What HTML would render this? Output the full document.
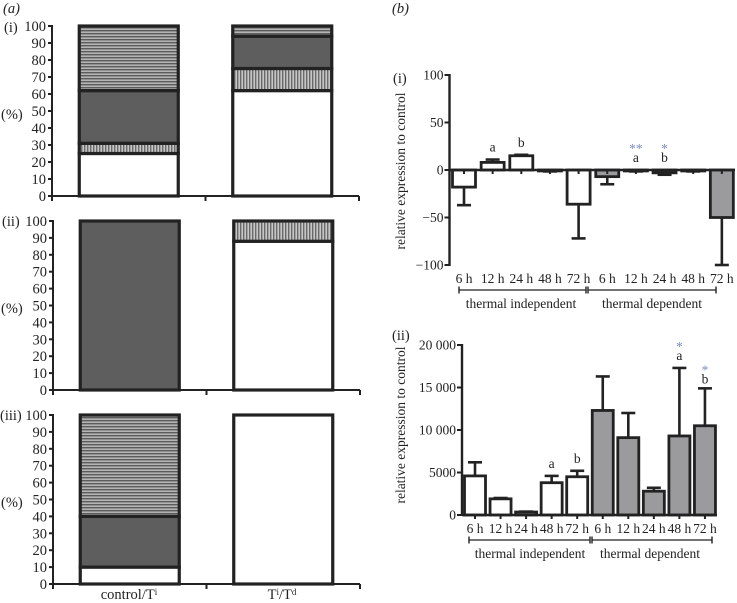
<!DOCTYPE html>
<html>
<head>
<meta charset="utf-8">
<style>
html,body{margin:0;padding:0;background:#fff;width:737px;height:603px;overflow:hidden}
svg{display:block;font-size:13.5px}
text{font-family:"Liberation Serif",serif;fill:#222}
</style>
</head>
<body>
<svg id="fig" xmlns="http://www.w3.org/2000/svg" width="737" height="603" viewBox="0 0 737 603">
<defs>
<pattern id="hatch-h" width="3" height="3" patternUnits="userSpaceOnUse"><rect width="3" height="3" fill="#b4b4b4"/><rect width="3" height="1.4" fill="#5c5c5c"/></pattern>
<pattern id="hatch-v" width="3" height="3" patternUnits="userSpaceOnUse"><rect width="3" height="3" fill="#c6c6c6"/><rect width="1.4" height="3" fill="#6a6a6a"/></pattern>
</defs>
</svg>
<script>
// Panel (a) data: stacked percentages, bottom to top
const aCategories = ['control/Ti', 'Ti/Td'];
const aTicks = [0, 10, 20, 30, 40, 50, 60, 70, 80, 90, 100];
const a1ControlKinds = ['white', 'vertical', 'dark', 'horizontal'];
const a1ControlValues = [25, 6, 31, 38];
const a1TransKinds = ['white', 'vertical', 'dark', 'horizontal'];
const a1TransValues = [62, 13, 19, 6];
const a2ControlKinds = ['dark'];
const a2ControlValues = [100];
const a2TransKinds = ['white', 'vertical'];
const a2TransValues = [88, 12];
const a3ControlKinds = ['white', 'dark', 'horizontal'];
const a3ControlValues = [10, 30, 60];
const a3TransKinds = ['white'];
const a3TransValues = [100];

// Panel (b) data
const timeLabels = ['6 h', '12 h', '24 h', '48 h', '72 h', '6 h', '12 h', '24 h', '48 h', '72 h'];
const b1Ticks = [-100, -50, 0, 50, 100];
const b1TickLabels = ['\u2212100', '\u221250', '0', '50', '100'];
const b1Values = [-18, 8, 15, -1, -36, -7, -1, -3, -1, -50];
const b1Errors = [-37, 11, 16, -1.5, -72, -15, -1.5, -5, -1.5, -100];
const b1Letters = ['', 'a', 'b', '', '', '', 'a', 'b', '', ''];
const b1Stars = ['', '', '', '', '', '', '**', '*', '', ''];
const b2Ticks = [0, 5000, 10000, 15000, 20000];
const b2TickLabels = ['0', '5000', '10 000', '15 000', '20 000'];
const b2Values = [4600, 1900, 350, 3800, 4500, 12300, 9100, 2800, 9300, 10500];
const b2Errors = [6200, 2000, 400, 4600, 5200, 16300, 12000, 3200, 17300, 14900];
const b2Letters = ['', '', '', 'a', 'b', '', '', '', 'a', 'b'];
const b2Stars = ['', '', '', '', '', '', '', '', '*', '*'];

const svg = document.getElementById('fig');
const NS = 'http://www.w3.org/2000/svg';
const INK = '#222222';

function mk(tag, attrs, parent) {
  const el = document.createElementNS(NS, tag);
  for (const k in attrs) el.setAttribute(k, attrs[k]);
  (parent || svg).appendChild(el);
  return el;
}
function line(x1, y1, x2, y2, w, name, parent) {
  const el = mk('line', {x1: x1, y1: y1, x2: x2, y2: y2, stroke: INK, 'stroke-width': w}, parent);
  
  
  return el;
}
function label(x, y, str, anchor, name, parent) {
  const el = mk('text', {x: x, y: y, 'text-anchor': anchor}, parent);
  el.textContent = str;
  
  
  return el;
}
function group(name) {
  const g = mk('g', {});
  
  
  return g;
}
const kindFill = {white: '#ffffff', dark: '#5e5e5e', vertical: 'url(#hatch-v)', horizontal: 'url(#hatch-h)'};

function stackedPanel(name, top, bottom, left, right, stacks) {
  const g = group(name);
  g.style.fontSize = '14.5px';
  const sy = v => bottom + (top - bottom) * v / 100;
  const band = (right - left) / 2;
  const barW = 99;
  stacks.forEach((stack, c) => {
    const cx = left + band * (c + 0.5);
    let acc = 0;
    stack.values.forEach((v, i) => {
      const kind = stack.kinds[i];
      const y1 = sy(acc + v), y0 = sy(acc);
      const r = mk('rect', {x: cx - barW / 2, y: y1, width: barW, height: y0 - y1, fill: kindFill[kind], stroke: INK, 'stroke-width': 3.2}, g);
      
      
      acc += v;
    });
  });
  line(left, top - 1, left, bottom + 1, 2, 'y-axis', g);
  line(left, bottom, right, bottom, 2, 'x-axis', g);
  [0, 1, 2].forEach(i => line(left + band * i, bottom, left + band * i, bottom + 5, 2, 'x-tick', g));
  aTicks.forEach(t => {
    line(left - 4, sy(t), left, sy(t), 2, 'y-tick', g);
    label(left - 6, sy(t) + 5, String(t), 'end', 'y-tick-label', g);
  });
  return g;
}

stackedPanel('chart-a-i', 26, 196, 52, 359, [
  {kinds: a1ControlKinds, values: a1ControlValues},
  {kinds: a1TransKinds, values: a1TransValues}
]);
stackedPanel('chart-a-ii', 221, 390, 53, 360, [
  {kinds: a2ControlKinds, values: a2ControlValues},
  {kinds: a2TransKinds, values: a2TransValues}
]);
const a3 = stackedPanel('chart-a-iii', 415, 584, 53, 360, [
  {kinds: a3ControlKinds, values: a3ControlValues},
  {kinds: a3TransKinds, values: a3TransValues}
]);

function supLabel(cx, y, parts, name) {
  const el = mk('text', {x: cx, y: y, 'text-anchor': 'middle'}, a3);
  parts.forEach(p => {
    const s = mk('tspan', p.sup ? {dy: -4, 'font-size': 9} : {dy: p.down ? 4 : 0}, el);
    s.textContent = p.t;
  });
  
  
}
supLabel(129, 599, [{t: 'control/T'}, {t: 'i', sup: true}], 'x-label-control');
supLabel(282, 599, [{t: 'T'}, {t: 'i', sup: true}, {t: '/T', down: true}, {t: 'd', sup: true}], 'x-label-treatment');

function errorBarPanel(cfg) {
  const g = group(cfg.name);
  const sy = v => cfg.y0 + (cfg.yTop - cfg.y0) * (v - cfg.vZero) / (cfg.vTop - cfg.vZero);
  const sx = i => cfg.x0 + cfg.step * i;
  cfg.values.forEach((v, i) => {
    const cx = sx(i);
    const err = cfg.errors[i];
    line(cx, sy(v), cx, sy(err), 2.6, 'error-bar', g);
    line(cx - 7, sy(err), cx + 7, sy(err), 2.6, 'error-cap', g);
    const a = Math.min(sy(v), sy(0)), h = Math.abs(sy(v) - sy(0));
    const r = mk('rect', {x: cx - cfg.barW / 2, y: a, width: cfg.barW, height: h, fill: i < 5 ? '#ffffff' : '#9b9b9e', stroke: INK, 'stroke-width': 2.8}, g);
    
    
    label(cx, cfg.timeY, timeLabels[i], 'middle', 'x-tick-label', g);
    line(cx, sy(cfg.vBase), cx + 0, sy(cfg.vBase) + 4, 2, 'x-tick', g);
    const topY = Math.min(sy(err), sy(v), sy(0));
    const gap = i === cfg.closeIndex ? 5 : 8;
    if (cfg.letters[i]) label(cx, topY - gap, cfg.letters[i], 'middle', 'significance-letter', g);
    if (cfg.stars[i]) {
      const st = label(cx, topY - gap - 9, cfg.stars[i], 'middle', 'significance-star', g);
      st.style.fill = '#7d8cc0';
    }
  });
  line(cfg.axisX, sy(cfg.ticks[cfg.ticks.length - 1]) - 1, cfg.axisX, sy(cfg.ticks[0]) + 1, 2.4, 'y-axis', g);
  line(cfg.axisX, sy(cfg.vBase), cfg.axisEnd, sy(cfg.vBase), 2.4, 'x-axis', g);
  cfg.ticks.forEach((t, i) => {
    line(cfg.axisX - 5, sy(t), cfg.axisX, sy(t), 2, 'y-tick', g);
    label(cfg.axisX - 6, sy(t) + 4.5, cfg.tickLabels[i], 'end', 'y-tick-label', g);
  });
  const title = label(405, cfg.titleY, 'relative expression to control', 'middle', 'y-axis-title', g);
  title.setAttribute('transform', 'rotate(-90 405 ' + cfg.titleY + ')');
  cfg.brackets.forEach(b => {
    line(b.x1, cfg.brY, b.x2, cfg.brY, 1.2, 'bracket-line', g);
    line(b.x1, cfg.brY - 3.5, b.x1, cfg.brY + 3.5, 1.4, 'bracket-end', g);
    line(b.x2, cfg.brY - 3.5, b.x2, cfg.brY + 3.5, 1.4, 'bracket-end', g);
    label(b.tx, cfg.brTextY, b.text, 'middle', 'group-label', g);
  });
}

errorBarPanel({
  name: 'chart-b-i', y0: 170, yTop: 75, vZero: 0, vTop: 100, vBase: 0,
  x0: 464, step: 28.65, barW: 23, axisX: 449.5, axisEnd: 735,
  values: b1Values, errors: b1Errors, letters: b1Letters, stars: b1Stars,
  ticks: b1Ticks, tickLabels: b1TickLabels, timeY: 283, titleY: 171,
  brY: 290, brTextY: 308, closeIndex: -1,
  brackets: [
    {x1: 459, x2: 586, tx: 521, text: 'thermal independent'},
    {x1: 588, x2: 716, tx: 652, text: 'thermal dependent'}
  ]
});
errorBarPanel({
  name: 'chart-b-ii', y0: 515, yTop: 345, vZero: 0, vTop: 20000, vBase: 0,
  x0: 475, step: 25.55, barW: 21, axisX: 462, axisEnd: 717,
  values: b2Values, errors: b2Errors, letters: b2Letters, stars: b2Stars,
  ticks: b2Ticks, tickLabels: b2TickLabels, timeY: 533, titleY: 425,
  brY: 540, brTextY: 558, closeIndex: 9,
  brackets: [
    {x1: 469, x2: 590, tx: 530, text: 'thermal independent'},
    {x1: 592, x2: 712, tx: 650, text: 'thermal dependent'}
  ]
});

const notes = group('panel-labels');
notes.style.fontSize = '14.5px';
const aLabel = label(3, 13, '(a)', 'start', 'panel-a-label', notes);
aLabel.style.fontStyle = 'italic';
const bLabel = label(392, 13, '(b)', 'start', 'panel-b-label', notes);
bLabel.style.fontStyle = 'italic';
label(4, 32, '(i)', 'start', 'panel-a-i-label', notes);
label(2, 226, '(ii)', 'start', 'panel-a-ii-label', notes);
label(0, 420, '(iii)', 'start', 'panel-a-iii-label', notes);
label(1, 119, '(%)', 'start', 'panel-a-i-y-title', notes);
label(1, 313, '(%)', 'start', 'panel-a-ii-y-title', notes);
label(1, 507, '(%)', 'start', 'panel-a-iii-y-title', notes);
label(393, 83, '(i)', 'start', 'panel-b-i-label', notes);
label(392, 340, '(ii)', 'start', 'panel-b-ii-label', notes);
</script>
</body>
</html>
